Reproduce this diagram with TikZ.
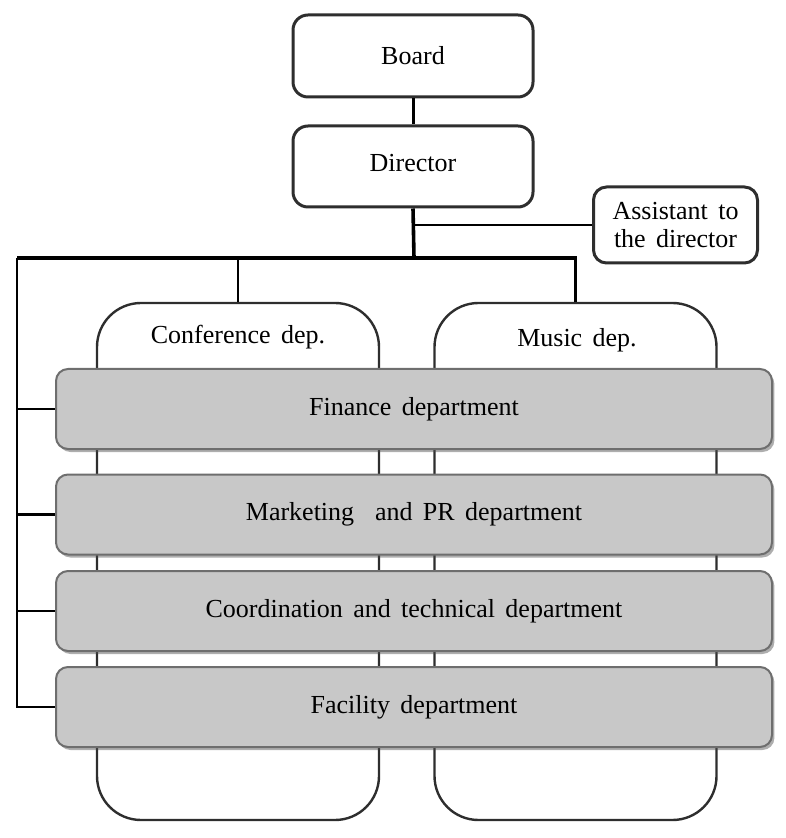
\documentclass[tikz,border=0pt]{standalone}
\usepackage{fontspec}
\setmainfont[WordSpace=1.6]{Liberation Serif}
\usetikzlibrary{shadows}
\definecolor{edge}{HTML}{2E2E2E}
\definecolor{grayfill}{HTML}{C8C8C8}
\definecolor{grayedge}{HTML}{6E6E6E}
\begin{document}
\begin{tikzpicture}[x=0.5pt,y=-0.5pt,
  font=\fontsize{13}{16}\selectfont,
  topbox/.style={draw=edge,line width=1.5pt,rounded corners=7.5pt,fill=white,inner sep=0pt},
  deptbox/.style={draw=edge,line width=1.2pt,rounded corners=22pt,fill=white,inner sep=0pt,
     minimum width=141pt,minimum height=258.5pt},
  graybox/.style={draw=grayedge,line width=1pt,rounded corners=6pt,fill=grayfill,inner sep=0pt,
     minimum width=358pt,minimum height=40pt,
     drop shadow={shadow xshift=1.2pt,shadow yshift=-1.5pt,opacity=0.45,fill=black!70}},
  wire/.style={draw=black,line width=1.2pt},
  thickwire/.style={draw=black,line width=1.8pt}]
\useasboundingbox (0,0) rectangle (785,838);

% top boxes
\node[topbox,minimum width=120pt,minimum height=41pt] (board) at (413,56) {Board};
\node[topbox,minimum width=120pt,minimum height=40.5pt,text depth=4pt] (director) at (413,166.5) {Director};
\node[topbox,minimum width=82pt,minimum height=38pt,rounded corners=6.5pt,align=center,
  font=\fontsize{13}{14}\selectfont] (assistant) at (675.5,225) {Assistant to\\the director};

% junctions
\coordinate (J) at (414,258);
\coordinate (L) at (17,258);

% department columns
\node[deptbox] (conf) at (238,561.5) {};
\node[deptbox] (music) at (575.5,561.5) {};
\node (conftext) at (238,337) {Conference dep.};
\node (musictext) at (577,340) {Music dep.};

% connectors
\draw[wire,line width=1.5pt] (board.south) -- (director.north);
\draw[thickwire] (director.south) -- (J);
\draw[wire,line width=1pt] (director.south |- assistant.west) -- (assistant.west);
\draw[thickwire] (L) -- (J) -| (music.north);
\draw[wire] (conf.north |- J) -- (conf.north);

% gray departments
\node[graybox] (finance) at (414,409) {Finance department};
\node[graybox] (marketing) at (414,514.5) {Marketing\ \ and PR department};
\node[graybox] (coord) at (414,611) {Coordination and technical department};
\node[graybox] (facility) at (414,707) {Facility department};

% left bus
\draw[wire] (L) -- (L |- facility.west) -- (facility.west);
\draw[wire] (L |- finance.west) -- (finance.west);
\draw[wire] (L |- marketing.west) -- (marketing.west);
\draw[wire] (L |- coord.west) -- (coord.west);
\end{tikzpicture}
\end{document}
